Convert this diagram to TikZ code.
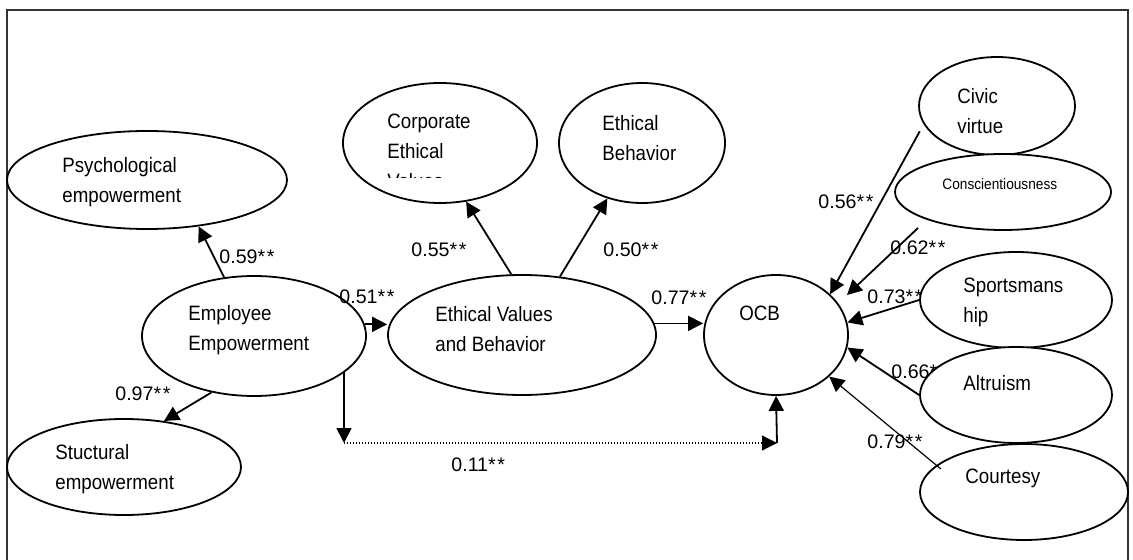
\documentclass[tikz,border=0pt]{standalone}
\usepackage{fontspec}
\setmainfont{Liberation Sans}[FakeStretch=0.9]
\newfontfamily\coeffont{Liberation Sans}
\usetikzlibrary{arrows.meta,shapes.geometric}

\newcommand{\stars}{*\kern0.8pt*}

\begin{document}
\begin{tikzpicture}[x=0.5pt, y=-0.5pt, >={Triangle[length=7.5pt,width=7.5pt]},
    latent/.style={ellipse, draw, line width=0.9pt, fill=white, inner sep=0pt},
    txt/.style={anchor=west, align=left, inner sep=0pt, font=\fontsize{10.4}{15}\selectfont},
    coef/.style={anchor=west, inner sep=0pt, font=\coeffont\fontsize{9.8}{12}\selectfont},
    path/.style={->, line width=0.9pt}]
        \useasboundingbox (0,0) rectangle (1133,560);

        % Frame
        \draw[line width=0.6pt, black!80] (7,560) -- (7,10) -- (1128,10) -- (1128,560);

        % Coefficients partly hidden behind the ellipses
        \node[coef] (c73) at (867,297) {0.73\stars};
        \node[coef] (c66) at (891,372) {0.66\stars};

        % Latent variables
        \node[latent, minimum width=140pt, minimum height=49pt] (psy) at (147,180) {};
        \node[latent, minimum width=97pt, minimum height=60pt] (cev) at (440,143) {};
        \node[latent, minimum width=83pt, minimum height=60pt] (eb) at (642,143) {};
        \node[latent, minimum width=112pt, minimum height=60pt] (ee) at (254,336) {};
        \node[latent, minimum width=134pt, minimum height=60pt] (evb) at (522,335) {};
        \node[latent, minimum width=72pt, minimum height=60pt] (ocb) at (776,335) {};
        \node[latent, minimum width=117pt, minimum height=48pt] (stc) at (124,467) {};
        \node[latent, minimum width=78pt, minimum height=49pt] (civ) at (997,106) {};
        \node[latent, minimum width=108pt, minimum height=38pt] (con) at (1003,192) {};
        \node[latent, minimum width=96pt, minimum height=48pt] (spo) at (1016,300) {};
        \node[latent, minimum width=96pt, minimum height=48pt] (alt) at (1016,395) {};
        \node[latent, minimum width=104pt, minimum height=48pt] (cou) at (1024,492) {};

        % Texts
        \node[txt] (psyT) at (62,182) {Psychological\\empowerment};
        \begin{scope}
            \clip (380,95) rectangle (540,178);
            \node[txt, anchor=north west] (cevT) at (387,114) {Corporate\\Ethical\\Values};
        \end{scope}
        \node[txt] (ebT) at (602,138) {Ethical\\Behavior};
        \node[txt] (eeT) at (188,330) {Employee\\Empowerment};
        \node[txt] (evbT) at (435,329) {Ethical Values\\and Behavior};
        \node[txt] (ocbT) at (739,313) {OCB};
        \node[txt] (stcT) at (55,469) {Stuctural\\empowerment};
        \node[txt] (civT) at (957,111) {Civic\\virtue};
        \node[txt, font=\fontsize{7.6}{9}\selectfont] (conT) at (942,184) {Conscientiousness};
        \node[txt] (spoT) at (963,302) {Sportsmans\\hip};
        \node[txt] (altT) at (963,383) {Altruism};
        \node[txt] (couT) at (965,478) {Courtesy};

        % Paths
        \draw[path] (ee.117) -- (psy.-42);
        \draw[path] (ee.233) -- (stc.49);
        \draw[path] (ee.6) -- (ee.6 -| evb.west);
        \draw[path] (evb.100) -- (cev.-66);
        \draw[path] (evb.57) -- (eb.238);
        \draw[path] (evb.5) -- (evb.5 -| ocb.west);

        % Direct path below
        \coordinate (dropL) at (344,372);
        \coordinate (bendL) at (344,443);
        \coordinate (bendR) at (777,443);
        \draw[path] (dropL) -- (bendL);
        \draw[path, line width=0.6pt, dash pattern=on 0.6pt off 0.9pt] (bendL) -- (bendR);
        \draw[path] (bendR) -- (ocb.south);

        % OCB dimensions
        \draw[path, shorten <=4pt] (civ.194) -- (ocb.37);
        \draw[path, shorten <=6pt, shorten >=6pt] (con.200) -- (ocb.27);
        \draw[path] (spo.west) -- (ocb.10);
        \draw[path] (alt.west) -- (ocb.-10);
        \draw[path, line width=0.6pt, shorten <=-3pt] (cou.163) -- (ocb.-38);

        % Coefficients
        \node[coef] (c59) at (219,257) {0.59\stars};
        \node[coef] (c97) at (115,394) {0.97\stars};
        \node[coef] (c51) at (339,297) {0.51\stars};
        \node[coef] (c55) at (411,250) {0.55\stars};
        \node[coef] (c50) at (603,250) {0.50\stars};
        \node[coef] (c77) at (651,298) {0.77\stars};
        \node[coef] (c11) at (451,465) {0.11\stars};
        \node[coef] (c56) at (818,202) {0.56\stars};
        \node[coef] (c62) at (890,248) {0.62\stars};
        \node[coef] (c79) at (867,442) {0.79\stars};
\end{tikzpicture}
\end{document}
